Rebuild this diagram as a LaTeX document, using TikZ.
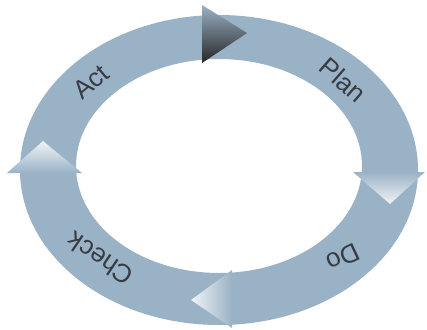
\documentclass[tikz,border=0pt]{standalone}
\usepackage{fontspec}
\setmainfont{Liberation Sans}
\definecolor{ringblue}{RGB}{154,178,198}
\definecolor{txtgray}{RGB}{55,60,68}
\begin{document}
\begin{tikzpicture}[x=1pt,y=-1pt,
  lbl/.style={text=txtgray, font=\fontsize{26}{30}\selectfont, inner sep=0pt}]
\useasboundingbox (0,0) rectangle (427,329);
\fill[white] (0,0) rectangle (427,329);
% ring
\fill[ringblue, even odd rule] (219,170) ellipse [x radius=199pt, y radius=155pt]
  (219,166) ellipse [x radius=143pt, y radius=107pt];
% arrow heads
\shade[left color=ringblue, right color=black!85, shading angle=0] (202,5) -- (202,63) -- (247,33) -- cycle;
\shade[top color=ringblue, bottom color=white!85!ringblue] (353,172) -- (425,172) -- (390,204) -- cycle;
\shade[right color=ringblue, left color=white!85!ringblue] (232,270) -- (232,328) -- (191,300) -- cycle;
\shade[bottom color=ringblue, top color=white!85!ringblue] (7,173) -- (82,173) -- (43,141) -- cycle;
% labels
\node[lbl, rotate=-41] (plan) at (343,80) {Plan};
\node[lbl, rotate=-155] (do) at (343,258) {Do};
\node[lbl, rotate=146] (check) at (100,259) {Check};
\node[lbl, rotate=40] (act) at (91,82) {Act};
\end{tikzpicture}
\end{document}
